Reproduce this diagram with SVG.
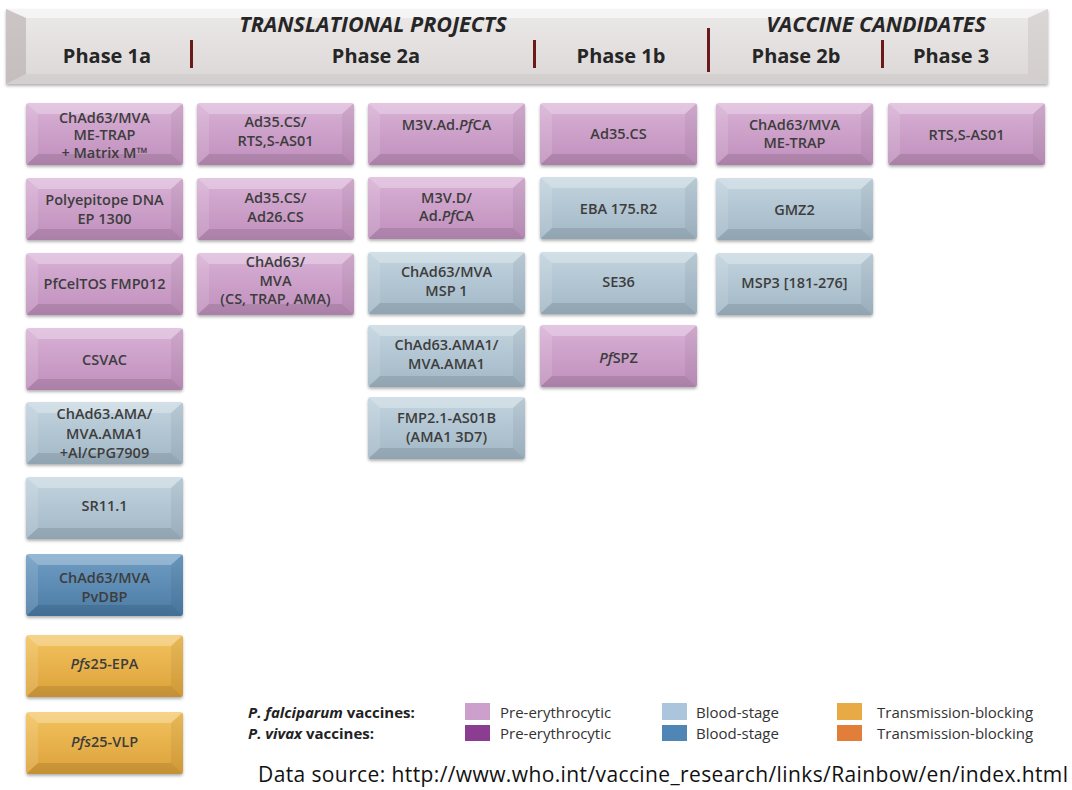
<svg xmlns="http://www.w3.org/2000/svg" xmlns:xlink="http://www.w3.org/1999/xlink" width="1072" height="790" viewBox="0 0 1072 790">
<defs>
<style>
.bt{font-family:"Open Sans","Liberation Sans",sans-serif;font-size:14.5px;font-weight:600;fill:#3d3d3d;text-anchor:middle;}
.ph{font-family:"Open Sans","Liberation Sans",sans-serif;font-size:20px;font-weight:bold;fill:#262626;text-anchor:middle;}
.hd{font-family:"Open Sans","Liberation Sans",sans-serif;font-size:21.5px;font-weight:bold;font-style:italic;fill:#262626;text-anchor:middle;}
.lg{font-family:"Open Sans","Liberation Sans",sans-serif;font-size:15px;fill:#333;}
.lb{font-family:"Open Sans","Liberation Sans",sans-serif;font-size:15px;font-weight:bold;fill:#222;}
.sep{fill:#6b1a1a;}
</style>
<linearGradient id="gPink" x1="0" y1="0" x2="0" y2="1"><stop offset="0" stop-color="#d9b1d6"/><stop offset="1" stop-color="#bf8fbc"/></linearGradient>
<linearGradient id="gBlue" x1="0" y1="0" x2="0" y2="1"><stop offset="0" stop-color="#c2d4df"/><stop offset="1" stop-color="#a2b7c6"/></linearGradient>
<linearGradient id="gDBlue" x1="0" y1="0" x2="0" y2="1"><stop offset="0" stop-color="#6f9dc4"/><stop offset="1" stop-color="#4b7ba5"/></linearGradient>
<linearGradient id="gOrange" x1="0" y1="0" x2="0" y2="1"><stop offset="0" stop-color="#f3c35e"/><stop offset="1" stop-color="#dca13a"/></linearGradient>
<linearGradient id="gHead" x1="0" y1="0" x2="0" y2="1"><stop offset="0" stop-color="#ece9e9"/><stop offset="1" stop-color="#dcd7d7"/></linearGradient>
<filter id="sh" x="-10%" y="-10%" width="120%" height="130%"><feDropShadow dx="0" dy="2" stdDeviation="1.5" flood-color="#000" flood-opacity="0.3"/></filter>
<g id="bevel">
<polygon points="0,0 157,0 145,11 12,11" fill="#fff" fill-opacity="0.28"/>
<polygon points="0,0 12,11 12,51 0,62" fill="#fff" fill-opacity="0.12"/>
<polygon points="157,0 157,62 145,51 145,11" fill="#000" fill-opacity="0.05"/>
<polygon points="0,62 12,51 145,51 157,62" fill="#000" fill-opacity="0.1"/>
</g>
<g id="bPink"><rect width="157" height="62" rx="3" fill="url(#gPink)" filter="url(#sh)"/><use xlink:href="#bevel"/></g>
<g id="bBlue"><rect width="157" height="62" rx="3" fill="url(#gBlue)" filter="url(#sh)"/><use xlink:href="#bevel"/></g>
<g id="bDBlue"><rect width="157" height="62" rx="3" fill="url(#gDBlue)" filter="url(#sh)"/><use xlink:href="#bevel"/></g>
<g id="bOrange"><rect width="157" height="62" rx="3" fill="url(#gOrange)" filter="url(#sh)"/><use xlink:href="#bevel"/></g>
</defs>
<rect width="1072" height="790" fill="#fff"/>

<g id="header">
<rect x="6" y="9" width="1042" height="75" fill="url(#gHead)" filter="url(#sh)"/>
<polygon points="6,9 1048,9 1028,18 26,18" fill="#fff" fill-opacity="0.5"/>
<polygon points="6,9 26,18 26,74 6,84" fill="#b5aeae" fill-opacity="0.6"/>
<polygon points="1048,9 1048,84 1028,74 1028,18" fill="#c9c3c3" fill-opacity="0.5"/>
<polygon points="6,84 26,74 1028,74 1048,84" fill="#c9c3c3" fill-opacity="0.4"/>
<text class="hd" x="373" y="32">TRANSLATIONAL PROJECTS</text>
<text class="hd" x="876" y="32">VACCINE CANDIDATES</text>
<text class="ph" x="107" y="63">Phase 1a</text>
<text class="ph" x="376" y="63">Phase 2a</text>
<text class="ph" x="621" y="63">Phase 1b</text>
<text class="ph" x="796" y="63">Phase 2b</text>
<text class="ph" x="951" y="63">Phase 3</text>
<rect class="sep" x="190" y="40" width="3" height="28"/>
<rect class="sep" x="533" y="40" width="3" height="28"/>
<rect class="sep" x="707" y="28" width="3" height="44"/>
<rect class="sep" x="881" y="40" width="3" height="28"/>
</g>

<g id="connectors"/>

<!-- Column Phase 1a -->
<g id="n-chad63-metrap-matrix" transform="translate(26,103)"><use xlink:href="#bPink"/><text class="bt" x="78.5" y="20">ChAd63/MVA</text><text class="bt" x="78.5" y="37">ME-TRAP</text><text class="bt" x="78.5" y="55">+ Matrix M™</text></g>
<g id="n-polyepitope" transform="translate(26,178)"><use xlink:href="#bPink"/><text class="bt" x="78.5" y="27">Polyepitope DNA</text><text class="bt" x="78.5" y="46">EP 1300</text></g>
<g id="n-pfceltos" transform="translate(26,253)"><use xlink:href="#bPink"/><text class="bt" x="78.5" y="36">PfCelTOS FMP012</text></g>
<g id="n-csvac" transform="translate(26,328)"><use xlink:href="#bPink"/><text class="bt" x="78.5" y="37">CSVAC</text></g>
<g id="n-chad63-ama" transform="translate(26,402)"><use xlink:href="#bBlue"/><text class="bt" x="78.5" y="17">ChAd63.AMA/</text><text class="bt" x="78.5" y="37">MVA.AMA1</text><text class="bt" x="78.5" y="56">+Al/CPG7909</text></g>
<g id="n-sr11" transform="translate(26,477)"><use xlink:href="#bBlue"/><text class="bt" x="78.5" y="34">SR11.1</text></g>
<g id="n-pvdbp" transform="translate(26,554)"><use xlink:href="#bDBlue"/><text class="bt" x="78.5" y="29">ChAd63/MVA</text><text class="bt" x="78.5" y="48">PvDBP</text></g>
<g id="n-pfs25-epa" transform="translate(26,635)"><use xlink:href="#bOrange"/><text class="bt" x="78.5" y="34"><tspan font-style="italic">Pfs</tspan>25-EPA</text></g>
<g id="n-pfs25-vlp" transform="translate(26,712)"><use xlink:href="#bOrange"/><text class="bt" x="78.5" y="35"><tspan font-style="italic">Pfs</tspan>25-VLP</text></g>

<!-- Column Phase 2a (left) -->
<g id="n-ad35-rtss" transform="translate(197,103)"><use xlink:href="#bPink"/><text class="bt" x="78.5" y="24">Ad35.CS/</text><text class="bt" x="78.5" y="43">RTS,S-AS01</text></g>
<g id="n-ad35-ad26" transform="translate(197,178)"><use xlink:href="#bPink"/><text class="bt" x="78.5" y="25">Ad35.CS/</text><text class="bt" x="78.5" y="44">Ad26.CS</text></g>
<g id="n-chad63-cs-trap-ama" transform="translate(197,253)"><use xlink:href="#bPink"/><text class="bt" x="78.5" y="14">ChAd63/</text><text class="bt" x="78.5" y="33">MVA</text><text class="bt" x="78.5" y="51">(CS, TRAP, AMA)</text></g>

<!-- Column Phase 2a (right) -->
<g id="n-m3v-ad" transform="translate(368,103)"><use xlink:href="#bPink"/><text class="bt" x="78.5" y="27">M3V.Ad.<tspan font-style="italic">Pf</tspan>CA</text></g>
<g id="n-m3v-d" transform="translate(368,177)"><use xlink:href="#bPink"/><text class="bt" x="78.5" y="26">M3V.D/</text><text class="bt" x="78.5" y="44">Ad.<tspan font-style="italic">Pf</tspan>CA</text></g>
<g id="n-chad63-msp1" transform="translate(368,252)"><use xlink:href="#bBlue"/><text class="bt" x="78.5" y="25">ChAd63/MVA</text><text class="bt" x="78.5" y="44">MSP 1</text></g>
<g id="n-chad63-ama1" transform="translate(368,325)"><use xlink:href="#bBlue"/><text class="bt" x="78.5" y="25">ChAd63.AMA1/</text><text class="bt" x="78.5" y="44">MVA.AMA1</text></g>
<g id="n-fmp21" transform="translate(368,397)"><use xlink:href="#bBlue"/><text class="bt" x="78.5" y="26">FMP2.1-AS01B</text><text class="bt" x="78.5" y="45">(AMA1 3D7)</text></g>

<!-- Column Phase 1b -->
<g id="n-ad35cs" transform="translate(540,103)"><use xlink:href="#bPink"/><text class="bt" x="78.5" y="36">Ad35.CS</text></g>
<g id="n-eba175" transform="translate(540,177)"><use xlink:href="#bBlue"/><text class="bt" x="78.5" y="37">EBA 175.R2</text></g>
<g id="n-se36" transform="translate(540,252)"><use xlink:href="#bBlue"/><text class="bt" x="78.5" y="35">SE36</text></g>
<g id="n-pfspz" transform="translate(540,325)"><use xlink:href="#bPink"/><text class="bt" x="78.5" y="38"><tspan font-style="italic">Pf</tspan>SPZ</text></g>

<!-- Column Phase 2b -->
<g id="n-chad63-metrap" transform="translate(716,103)"><use xlink:href="#bPink"/><text class="bt" x="78.5" y="27">ChAd63/MVA</text><text class="bt" x="78.5" y="45">ME-TRAP</text></g>
<g id="n-gmz2" transform="translate(716,178)"><use xlink:href="#bBlue"/><text class="bt" x="78.5" y="37">GMZ2</text></g>
<g id="n-msp3" transform="translate(716,253)"><use xlink:href="#bBlue"/><text class="bt" x="78.5" y="35">MSP3 [181-276]</text></g>

<!-- Column Phase 3 -->
<g id="n-rtss" transform="translate(888,103)"><use xlink:href="#bPink"/><text class="bt" x="78.5" y="37">RTS,S-AS01</text></g>

<g id="legend">
<text class="lb" x="248" y="718"><tspan font-style="italic">P. falciparum</tspan> vaccines:</text>
<text class="lb" x="248" y="739"><tspan font-style="italic">P. vivax</tspan> vaccines:</text>
<rect x="465" y="703" width="25" height="17" fill="#cc9fcc"/>
<rect x="465" y="725" width="25" height="16" fill="#8b3d91"/>
<rect x="662" y="703" width="25" height="17" fill="#abc6dc"/>
<rect x="662" y="725" width="25" height="16" fill="#4f86b5"/>
<rect x="837" y="703" width="25" height="17" fill="#e8aa45"/>
<rect x="837" y="725" width="25" height="16" fill="#e07e3a"/>
<text class="lg" x="500" y="718">Pre-erythrocytic</text>
<text class="lg" x="500" y="739">Pre-erythrocytic</text>
<text class="lg" x="696" y="718">Blood-stage</text>
<text class="lg" x="696" y="739">Blood-stage</text>
<text class="lg" x="877" y="718">Transmission-blocking</text>
<text class="lg" x="877" y="739">Transmission-blocking</text>
</g>
<text x="258" y="782" font-family="'Open Sans','Liberation Sans',sans-serif" font-size="21" fill="#111" textLength="810">Data source: http://www.who.int/vaccine_research/links/Rainbow/en/index.html</text>
</svg>
